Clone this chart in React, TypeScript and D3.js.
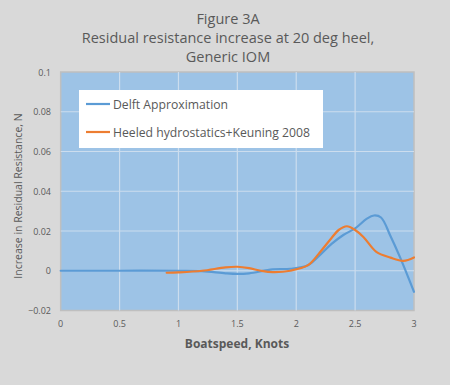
import React, { useEffect, useRef } from 'react';
import * as d3 from 'd3';

const titleLines = ['Figure 3A', 'Residual resistance increase at 20 deg heel,', 'Generic IOM'];
const xTicks = [0, 0.5, 1, 1.5, 2, 2.5, 3];
const yTicks = [-0.02, 0, 0.02, 0.04, 0.06, 0.08, 0.1];

const delftX = [0, 0.5, 1.0, 1.2, 1.4, 1.5, 1.6, 1.8, 1.95, 2.1, 2.2, 2.3, 2.4, 2.5, 2.6, 2.66, 2.72, 2.8, 2.88, 3.0];
const delftY = [0, 0, 0, -0.0002, -0.0013, -0.0016, -0.0013, 0.0007, 0.001, 0.0028, 0.0078, 0.0135, 0.018, 0.0213, 0.0262, 0.0278, 0.0268, 0.0175, 0.007, -0.0106];

const keuningX = [0.9, 1.0, 1.2, 1.4, 1.5, 1.6, 1.7, 1.8, 1.95, 2.1, 2.2, 2.3, 2.36, 2.43, 2.5, 2.57, 2.68, 2.8, 2.91, 3.0];
const keuningY = [-0.001, -0.0008, 0.0, 0.0017, 0.002, 0.0013, 0.0, -0.0007, 0.0, 0.0028, 0.0092, 0.0165, 0.0205, 0.0224, 0.0205, 0.017, 0.0095, 0.0066, 0.005, 0.0067];

const series = [
  { name: 'Delft Approximation', color: '#5B9BD5', xs: delftX, ys: delftY },
  { name: 'Heeled hydrostatics+Keuning 2008', color: '#ED7D31', xs: keuningX, ys: keuningY },
];

export default function App() {
  const ref = useRef<SVGSVGElement>(null);

  useEffect(() => {
    const svg = d3.select(ref.current);
    svg.selectAll('*').remove();
    const font = 'Open Sans, sans-serif';
    const grey = '#595959';

    svg.append('rect').attr('width', 450).attr('height', 385).attr('fill', '#D9D9D9');

    const x = d3.scaleLinear().domain([0, 3]).range([60.7, 414]);
    const y = d3.scaleLinear().domain([-0.02, 0.1]).range([310.5, 72]);

    svg.append('g').selectAll('text').data(titleLines).enter().append('text')
      .attr('x', 228).attr('y', (d, i) => 24 + i * 19)
      .attr('text-anchor', 'middle').attr('font-family', font).attr('font-size', 14.5)
      .attr('fill', grey).text((d) => d);

    svg.append('rect').attr('x', x(0)).attr('y', y(0.1))
      .attr('width', x(3) - x(0)).attr('height', y(-0.02) - y(0.1))
      .attr('fill', '#9DC3E6').attr('stroke', '#BFBFBF').attr('stroke-width', 1.5);

    const grid = svg.append('g');
    grid.selectAll('.gx').data(xTicks.slice(1, -1)).enter().append('line')
      .attr('x1', (d) => x(d)).attr('x2', (d) => x(d)).attr('y1', y(0.1)).attr('y2', y(-0.02))
      .attr('stroke', '#CCDDEE').attr('stroke-width', 1.2);
    grid.selectAll('.gy').data(yTicks.slice(1, -1)).enter().append('line')
      .attr('x1', x(0)).attr('x2', x(3)).attr('y1', (d) => y(d)).attr('y2', (d) => y(d))
      .attr('stroke', '#CCDDEE').attr('stroke-width', 1.2);

    svg.append('g').selectAll('text').data(yTicks).enter().append('text')
      .attr('x', 51).attr('y', (d) => y(d) + 3.5).attr('text-anchor', 'end')
      .attr('font-family', font).attr('font-size', 9).attr('fill', grey)
      .text((d) => d3.format('')(+d.toFixed(2)));

    svg.append('g').selectAll('text').data(xTicks).enter().append('text')
      .attr('x', (d) => x(d)).attr('y', 327).attr('text-anchor', 'middle')
      .attr('font-family', font).attr('font-size', 9).attr('fill', grey)
      .text((d) => String(d));

    svg.append('text').attr('x', 237).attr('y', 348).attr('text-anchor', 'middle')
      .attr('font-family', font).attr('font-size', 12).attr('font-weight', 'bold')
      .attr('fill', grey).text('Boatspeed, Knots');

    svg.append('text').attr('transform', 'translate(22,196) rotate(-90)')
      .attr('text-anchor', 'middle').attr('font-family', font).attr('font-size', 10.5)
      .attr('fill', grey).text('Increase in Residual Resistance, N');

    const line = d3.line<[number, number]>()
      .x((d) => x(d[0])).y((d) => y(d[1])).curve(d3.curveCatmullRom.alpha(0.5));

    series.forEach((s) => {
      const pts = s.xs.map((v, i) => [v, s.ys[i]] as [number, number]);
      svg.append('path').attr('d', line(pts)).attr('fill', 'none')
        .attr('stroke', s.color).attr('stroke-width', 2.2).attr('stroke-linecap', 'round');
    });

    const lg = svg.append('g');
    lg.append('rect').attr('x', 79).attr('y', 90).attr('width', 244).attr('height', 58).attr('fill', '#FFFFFF');
    series.forEach((s, i) => {
      const cy = 104 + i * 28;
      lg.append('line').attr('x1', 86).attr('x2', 110).attr('y1', cy).attr('y2', cy)
        .attr('stroke', s.color).attr('stroke-width', 2.2);
      lg.append('text').attr('x', 113).attr('y', cy + 4.5).attr('font-family', font)
        .attr('font-size', 12.2).attr('fill', grey).text(s.name);
    });
  }, []);

  return (
    <svg ref={ref} width={450} height={385} style={{ position: 'absolute', left: 0, top: 0 }} />
  );
}
